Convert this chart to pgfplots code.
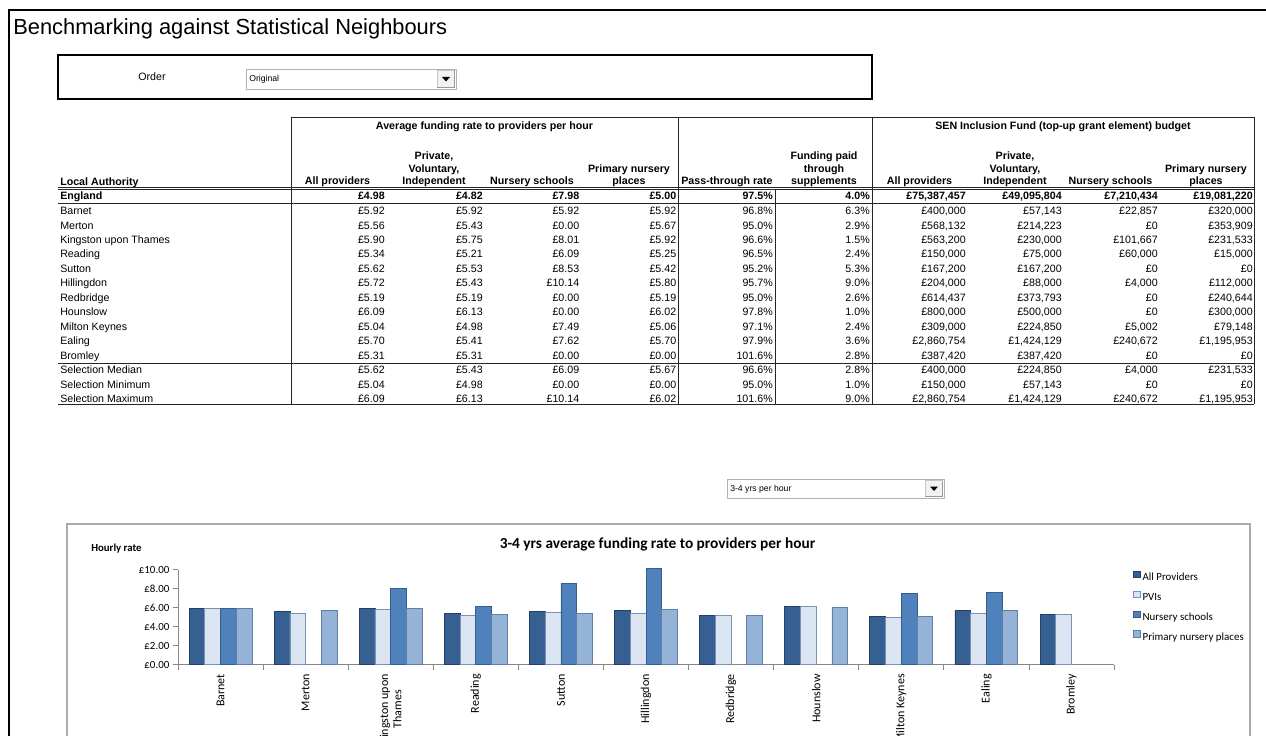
\documentclass[border=0pt]{standalone}
\usepackage{fontspec}
\setmainfont{Liberation Sans}
\newfontfamily\calibri{Carlito}
\usepackage{pgfplots}
\pgfplotsset{compat=1.18}

\definecolor{cAll}{RGB}{54,96,146}
\definecolor{cPvi}{RGB}{220,230,242}
\definecolor{cNur}{RGB}{79,129,189}
\definecolor{cPri}{RGB}{149,179,215}
\definecolor{eAll}{RGB}{36,64,98}
\definecolor{ePvi}{RGB}{120,145,180}
\definecolor{eNur}{RGB}{56,93,138}
\definecolor{ePri}{RGB}{96,126,166}
\definecolor{axgray}{RGB}{134,134,134}
\definecolor{framegray}{RGB}{170,170,170}

\newcommand{\tf}{\fontsize{8}{9.6}\selectfont}
\newcommand{\cf}{\calibri\fontsize{8.2}{9.8}\selectfont}

% one table row: baseline y, name, ten values
\newcommand{\trow}[3]{%
  \node[anchor=base west,inner sep=0pt] at (60,#1) {#2};
  \foreach \v [count=\j from 0] in {#3} {
    \pgfmathsetmacro{\xe}{{385,483,579.5,676.5,773,870,966,1062,1158,1253}[\j]}
    \node[anchor=base east,inner sep=0pt] at (\xe,#1) {\v};
  }}

% combo box: x1,y1,x2,y2,text
\newcommand{\combo}[5]{%
  \draw[gray!60,fill=white] (#1,#2) rectangle (#3,#4);
  \draw[gray!45,fill=gray!10] (#3-19,#2+1.5) rectangle (#3-1.5,#4-1.5);
  \draw[gray!80] (#3-19,#4-1.5) -- (#3-1.5,#4-1.5) -- (#3-1.5,#2+1.5);
  \fill (#3-14,{(#2+#4)/2-2}) -- (#3-6,{(#2+#4)/2-2}) -- (#3-10,{(#2+#4)/2+2.5}) -- cycle;
  \node[anchor=west,inner sep=0pt,font=\fontsize{6.5}{7.5}\selectfont] at (#1+3,{(#2+#4)/2+0.5}) {#5};}

\begin{document}
\begin{tikzpicture}
\path[use as bounding box,clip] (0pt,0pt) rectangle (949.5pt,-551.25pt);
\fill[white] (0pt,0pt) rectangle (949.5pt,-551.25pt);

\begin{scope}[x=0.75pt,y=-0.75pt,nodes={font=\tf}]
  % sheet frame and title
  \draw[line width=1.2pt] (9,745) -- (9,10) -- (1275,10);
  \node[anchor=base west,inner sep=0pt,font=\fontsize{16.4}{19}\selectfont] at (13,35)
    {Benchmarking against Statistical Neighbours};

  % order selector
  \draw[line width=1.1pt] (58,55) rectangle (872,99);
  \node[anchor=base,inner sep=0pt] at (152,80.5) {Order};
  \combo{246}{69}{456}{89}{Original}

  % table rules
  \begin{scope}[line width=0.6pt,black!85]
    \draw (291,117) -- (1254,117);
    \draw (58,187.3) -- (1254,187.3);
    \draw (58,189.7) -- (1254,189.7);
    \draw (58,203.3) -- (1254,203.3);
    \draw (58,363) -- (1254,363);
    \draw (58,404) -- (1254,404);
    \foreach \xx in {291,678,872,1254} \draw (\xx,117) -- (\xx,404);
    \draw (775.5,189.7) -- (775.5,404);
  \end{scope}

  % table headers
  \begin{scope}[nodes={font=\tf\bfseries,inner sep=0pt,anchor=base}]
    \node at (484.5,129.5) {Average funding rate to providers per hour};
    \node at (1063,129.5) {SEN Inclusion Fund (top-up grant element) budget};
    \node[anchor=base west] at (60,185) {Local Authority};
    \foreach \cx in {337.5,919.5} \node at (\cx,184.5) {All providers};
    \foreach \cx in {434,1015} {
      \node at (\cx,159.5) {Private,};
      \node at (\cx,172) {Voluntary,};
      \node at (\cx,184.5) {Independent};}
    \foreach \cx in {532,1110.5} \node at (\cx,184.5) {Nursery schools};
    \foreach \cx in {629,1206} {
      \node at (\cx,172) {Primary nursery};
      \node at (\cx,184.5) {places};}
    \node at (727,184.5) {Pass-through rate};
    \node at (824,159.5) {Funding paid};
    \node at (824,172) {through};
    \node at (824,184.5) {supplements};
  \end{scope}

  % table body
  \begin{scope}[nodes={font=\tf\bfseries}]
    \trow{199.8}{England}{£4.98,£4.82,£7.98,£5.00,97.5\%,4.0\%,{£75,387,457},{£49,095,804},{£7,210,434},{£19,081,220}}
  \end{scope}
  \trow{214.6}{Barnet}{£5.92,£5.92,£5.92,£5.92,96.8\%,6.3\%,{£400,000},{£57,143},{£22,857},{£320,000}}
  \trow{229.05}{Merton}{£5.56,£5.43,£0.00,£5.67,95.0\%,2.9\%,{£568,132},{£214,223},£0,{£353,909}}
  \trow{243.5}{Kingston upon Thames}{£5.90,£5.75,£8.01,£5.92,96.6\%,1.5\%,{£563,200},{£230,000},{£101,667},{£231,533}}
  \trow{257.95}{Reading}{£5.34,£5.21,£6.09,£5.25,96.5\%,2.4\%,{£150,000},{£75,000},{£60,000},{£15,000}}
  \trow{272.4}{Sutton}{£5.62,£5.53,£8.53,£5.42,95.2\%,5.3\%,{£167,200},{£167,200},£0,£0}
  \trow{286.85}{Hillingdon}{£5.72,£5.43,£10.14,£5.80,95.7\%,9.0\%,{£204,000},{£88,000},{£4,000},{£112,000}}
  \trow{301.3}{Redbridge}{£5.19,£5.19,£0.00,£5.19,95.0\%,2.6\%,{£614,437},{£373,793},£0,{£240,644}}
  \trow{315.75}{Hounslow}{£6.09,£6.13,£0.00,£6.02,97.8\%,1.0\%,{£800,000},{£500,000},£0,{£300,000}}
  \trow{330.2}{Milton Keynes}{£5.04,£4.98,£7.49,£5.06,97.1\%,2.4\%,{£309,000},{£224,850},{£5,002},{£79,148}}
  \trow{344.65}{Ealing}{£5.70,£5.41,£7.62,£5.70,97.9\%,3.6\%,{£2,860,754},{£1,424,129},{£240,672},{£1,195,953}}
  \trow{359.1}{Bromley}{£5.31,£5.31,£0.00,£0.00,101.6\%,2.8\%,{£387,420},{£387,420},£0,£0}
  \trow{373.55}{Selection Median}{£5.62,£5.43,£6.09,£5.67,96.6\%,2.8\%,{£400,000},{£224,850},{£4,000},{£231,533}}
  \trow{388}{Selection Minimum}{£5.04,£4.98,£0.00,£0.00,95.0\%,1.0\%,{£150,000},{£57,143},£0,£0}
  \trow{402.45}{Selection Maximum}{£6.09,£6.13,£10.14,£6.02,101.6\%,9.0\%,{£2,860,754},{£1,424,129},{£240,672},{£1,195,953}}

  % chart selector and chart panel
  \combo{727}{479}{944}{498}{3-4 yrs per hour}
  \draw[framegray,line width=0.8pt] (67,524) rectangle (1250,760);
  \node[anchor=base,inner sep=0pt,font=\calibri\fontsize{11.5}{13}\selectfont\bfseries] at (657.5,548)
    {3-4 yrs average funding rate to providers per hour};
  \node[anchor=base west,inner sep=0pt,font=\calibri\fontsize{8.1}{9.7}\selectfont\bfseries] at (91,551)
    {Hourly rate};
\end{scope}

\begin{axis}[
  at={(133.5pt,-498.375pt)}, anchor=south west,
  scale only axis, width=702pt, height=71.25pt,
  xmin=-0.5, xmax=10.5, ymin=0, ymax=10,
  axis x line*=bottom, axis y line*=left,
  axis line style={draw=axgray,line width=0.6pt},
  ybar=0pt, bar width=11.8pt, clip=false,
  tick align=outside, major tick length=3.75pt,
  ytick={0,2,4,6,8,10},
  yticklabels={£0.00,£2.00,£4.00,£6.00,£8.00,£10.00},
  ytick style={draw=axgray,line width=0.6pt},
  yticklabel style={xshift=0.8pt},
  xtick={0,...,10},
  xticklabels={Barnet,Merton,{Kingston upon\\Thames},Reading,Sutton,Hillingdon,Redbridge,Hounslow,Milton Keynes,Ealing,Bromley},
  xtick style={draw=none},
  extra x ticks={-0.5,0.5,...,10.5}, extra x tick labels={},
  extra x tick style={xtick style={draw=axgray,line width=0.6pt}},
  tick label style={font=\cf},
  xticklabel style={rotate=90,anchor=east,align=center,font=\calibri\fontsize{9}{10}\selectfont},
  legend style={at={(1.0203,0.9895)}, anchor=north west, draw=none, fill=none,
    inner sep=0pt, font=\cf, row sep=5.9pt, column sep=1.5pt,
    cells={anchor=west}, nodes={inner sep=0pt,text height=6pt,text depth=1.5pt}},
  legend image code/.code={\draw[#1,line width=0.5pt] (0pt,0pt) rectangle (5pt,5pt);},
]
\addplot[fill=cAll,draw=eAll,line width=0.6pt] coordinates {(0,5.92) (1,5.56) (2,5.90) (3,5.34) (4,5.62) (5,5.72) (6,5.19) (7,6.09) (8,5.04) (9,5.70) (10,5.31)};
\addplot[fill=cPvi,draw=ePvi,line width=0.6pt] coordinates {(0,5.92) (1,5.43) (2,5.75) (3,5.21) (4,5.53) (5,5.43) (6,5.19) (7,6.13) (8,4.98) (9,5.41) (10,5.31)};
\addplot[fill=cNur,draw=eNur,line width=0.6pt] coordinates {(0,5.92) (2,8.01) (3,6.09) (4,8.53) (5,10.14) (8,7.49) (9,7.62)};
\addplot[fill=cPri,draw=ePri,line width=0.6pt] coordinates {(0,5.92) (1,5.67) (2,5.92) (3,5.25) (4,5.42) (5,5.80) (6,5.19) (7,6.02) (8,5.06) (9,5.70)};
\legend{All Providers,PVIs,Nursery schools,Primary nursery places}
\end{axis}
\end{tikzpicture}
\end{document}
